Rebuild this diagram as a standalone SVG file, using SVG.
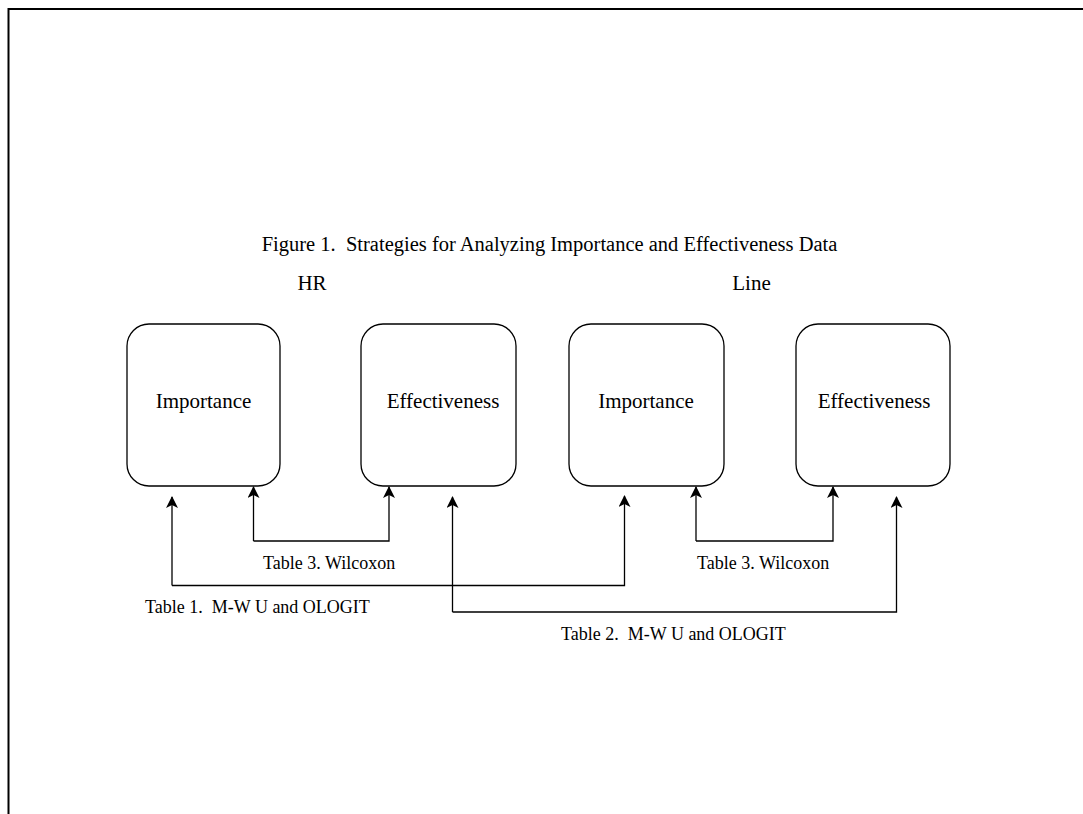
<svg xmlns="http://www.w3.org/2000/svg" width="1083" height="814" viewBox="0 0 1083 814">
<defs>
<style>
text{font-family:"Liberation Serif","Times New Roman",serif;fill:#000}
.box{fill:#fff;stroke:#000;stroke-width:1.3}
.c{fill:none;stroke:#000;stroke-width:1.3}
.lbl{font-size:18px}
.nt{font-size:21px;text-anchor:middle}
</style>
<marker id="ah" viewBox="0 0 12 12" refX="11" refY="6" markerWidth="12" markerHeight="12" markerUnits="userSpaceOnUse" orient="auto">
<path d="M0,0 L12,6 L0,12 L3,6 Z" fill="#000"/>
</marker>
</defs>
<rect width="1083" height="814" fill="#fff"/>
<path d="M8.5,814 V9 H1083" fill="none" stroke="#000" stroke-width="2"/>
<text x="549.5" y="251" font-size="20.5" text-anchor="middle" xml:space="preserve">Figure 1.  Strategies for Analyzing Importance and Effectiveness Data</text>
<text x="312" y="290" class="nt">HR</text>
<text x="751.5" y="290" class="nt">Line</text>
<g id="hr-importance">
<rect class="box" x="127" y="324" width="153" height="162" rx="22"/>
<text class="nt" x="203.5" y="408">Importance</text>
</g>
<g id="hr-effectiveness">
<rect class="box" x="361" y="324" width="155" height="162" rx="22"/>
<text class="nt" x="443" y="408">Effectiveness</text>
</g>
<g id="line-importance">
<rect class="box" x="569" y="324" width="155" height="162" rx="22"/>
<text class="nt" x="646" y="408">Importance</text>
</g>
<g id="line-effectiveness">
<rect class="box" x="796" y="324" width="154" height="162" rx="22"/>
<text class="nt" x="874" y="408">Effectiveness</text>
</g>
<g id="connectors">
<path class="c" d="M253.5,541 V487" marker-end="url(#ah)"/>
<path class="c" d="M253.5,541 H389 V487" marker-end="url(#ah)"/>
<path class="c" d="M172,585.5 V497" marker-end="url(#ah)"/>
<path class="c" d="M172,585.5 H624.5 V496" marker-end="url(#ah)"/>
<path class="c" d="M452.5,612 V497" marker-end="url(#ah)"/>
<path class="c" d="M452.5,612 H896.5 V497" marker-end="url(#ah)"/>
<path class="c" d="M696,541 V487" marker-end="url(#ah)"/>
<path class="c" d="M696,541 H833 V487" marker-end="url(#ah)"/>
</g>
<text class="lbl" x="263" y="569">Table 3. Wilcoxon</text>
<text class="lbl" x="697" y="569">Table 3. Wilcoxon</text>
<text class="lbl" x="145" y="613" xml:space="preserve">Table 1.  M-W U and OLOGIT</text>
<text class="lbl" x="561" y="640" xml:space="preserve">Table 2.  M-W U and OLOGIT</text>
</svg>
